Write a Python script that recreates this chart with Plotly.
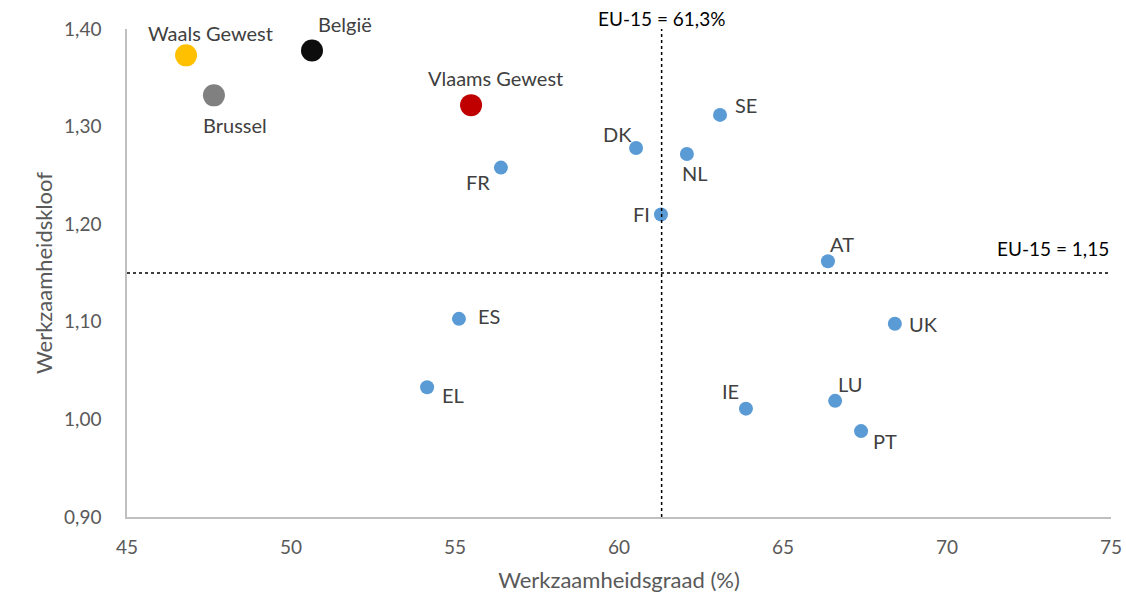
import plotly.graph_objects as go

# Regions / Belgium (large markers)
reg_names = ["Waals Gewest", "België", "Brussel", "Vlaams Gewest"]
reg_x = [46.80, 50.64, 47.65, 55.49]
reg_y = [1.373, 1.378, 1.332, 1.322]
reg_colors = ["#FFC000", "#0D0D0D", "#808080", "#C00000"]

# EU-15 countries (small markers)
cty_names = ["FR", "DK", "NL", "SE", "FI", "AT", "ES", "UK", "EL", "IE", "LU", "PT"]
cty_x = [56.40, 60.52, 62.07, 63.08, 61.28, 66.37, 55.12, 68.41, 54.15, 63.87, 66.59, 67.38]
cty_y = [1.258, 1.278, 1.272, 1.312, 1.210, 1.162, 1.103, 1.098, 1.033, 1.011, 1.019, 0.988]

eu15_rate = 61.3
eu15_gap = 1.15

# label offsets (pixels) – styling only
label_offsets = {
    "Waals Gewest": (24, 22), "België": (33, 26), "Brussel": (21, -30),
    "Vlaams Gewest": (24, 27), "FR": (-23, -14), "DK": (-19, 14), "NL": (8, -19),
    "SE": (26, 10), "FI": (-19, 0), "AT": (14, 17), "ES": (30, 3), "UK": (29, 0),
    "EL": (26, -8), "IE": (-15, 18), "LU": (15, 17), "PT": (24, -10),
}

FONT = "Lato"
fig = go.Figure()
fig.add_trace(go.Scatter(x=cty_x, y=cty_y, mode="markers",
                         marker=dict(size=14, color="#5B9BD5"), cliponaxis=False,
                         showlegend=False, hoverinfo="skip"))
fig.add_trace(go.Scatter(x=reg_x, y=reg_y, mode="markers",
                         marker=dict(size=22, color=reg_colors), cliponaxis=False,
                         showlegend=False, hoverinfo="skip"))

for n, x, y in list(zip(reg_names, reg_x, reg_y)) + list(zip(cty_names, cty_x, cty_y)):
    dx, dy = label_offsets[n]
    fig.add_annotation(x=x, y=y, text=n, showarrow=False, xshift=dx, yshift=dy,
                       font=dict(family=FONT, size=20, color="#404040"))

fig.add_shape(type="line", xref="x", yref="y", x0=eu15_rate, x1=eu15_rate, y0=0.9, y1=1.4,
              line=dict(color="black", width=1.5, dash="dot"))
fig.add_shape(type="line", xref="x", yref="y", x0=45, x1=75, y0=eu15_gap, y1=eu15_gap,
              line=dict(color="black", width=1.5, dash="dot"))
fig.add_annotation(x=eu15_rate, y=1.4, yshift=11, text="EU-15 = 61,3%", showarrow=False,
                   font=dict(family=FONT, size=19, color="black"))
fig.add_annotation(x=75, y=eu15_gap, xanchor="right", yshift=25, text="EU-15 = 1,15",
                   showarrow=False, font=dict(family=FONT, size=19, color="black"))

fig.update_layout(
    width=1126, height=599, paper_bgcolor="white", plot_bgcolor="white",
    margin=dict(l=127, r=15, t=29, b=82, autoexpand=False),
    separators=", ",
    font=dict(family=FONT, color="#595959"),
    xaxis=dict(range=[45, 75], dtick=5, tick0=45, showgrid=False, zeroline=False,
               showline=True, linecolor="#BFBFBF", linewidth=1.5, ticks="", automargin=False,
               tickfont=dict(size=19, color="#595959"), ticklabelstandoff=12,
               title=dict(text="Werkzaamheidsgraad (%)", font=dict(size=22, color="#595959"),
                          standoff=16)),
    yaxis=dict(range=[0.9, 1.4], dtick=0.1, tick0=0.9, tickformat=".2f", showgrid=False,
               zeroline=False, showline=True, linecolor="#BFBFBF", linewidth=1.5, ticks="",
               automargin=False,
               tickfont=dict(size=19, color="#595959"), ticklabelstandoff=20,
               title=dict(text="Werkzaamheidskloof", font=dict(size=22, color="#595959"),
                          standoff=5)),
)
fig.write_html("out.html", config={"displayModeBar": False},
               post_script="document.body.style.margin='0';document.body.style.overflow='hidden';")
